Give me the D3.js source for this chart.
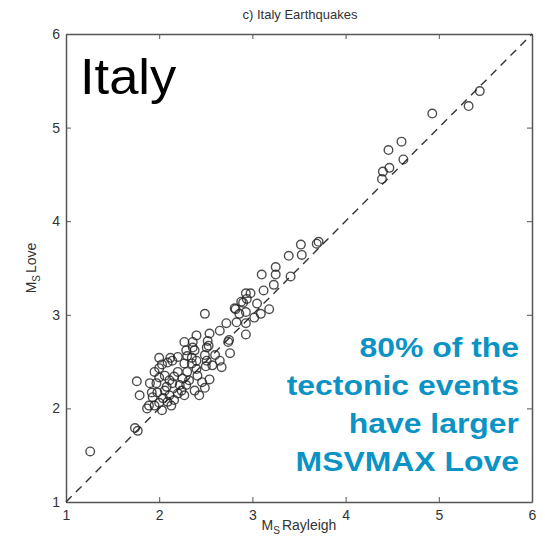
<!DOCTYPE html>
<html><head><meta charset="utf-8">
<script src="https://cdn.jsdelivr.net/npm/d3@7"></script>
<style>body{margin:0;background:#fff}svg{display:block}text{font-family:"Liberation Sans",Arial,sans-serif}</style>
</head><body>
<script>
const title = "c) Italy Earthquakes";
const xLabel = "Rayleigh", yLabel = "Love";
const ticks = [1, 2, 3, 4, 5, 6];
const noteLines = ["80% of the", "tectonic events", "have larger", "MSVMAX Love"];
const rayleigh = [1.26,1.74,1.77,1.76,1.79,1.87,1.89,1.90,2.00,2.03,2.12,2.20,2.27,2.36,2.29,2.38,2.27,2.35,2.51,2.52,2.49,2.60,2.50,2.67,2.74,2.76,2.46,2.54,2.49,2.40,2.30,2.20,2.00,2.00,1.97,1.92,1.98,2.08,2.14,2.22,2.20,2.11,2.04,2.09,2.16,2.00,1.95,1.93,2.24,2.29,2.49,3.10,3.25,3.25,3.23,3.41,3.39,3.53,3.52,3.71,3.69,3.12,2.93,2.98,2.88,3.05,2.82,2.86,2.93,3.09,3.18,3.02,2.83,2.93,2.72,2.65,2.54,2.40,2.93,2.75,2.36,2.51,2.14,2.94,2.90,2.81,2.53,2.35,5.32,5.44,4.93,4.60,4.62,4.46,4.47,4.40,4.39,2.06,2.11,2.16,2.25,2.32,2.38,2.27,2.06,2.13,2.03,2.30,2.40,2.41,2.57,2.65,2.09,1.95,2.43];
const love = [1.54,1.79,1.76,2.29,2.14,2.00,2.03,2.27,2.54,2.47,2.54,2.55,2.71,2.71,2.62,2.62,2.48,2.48,2.65,2.72,2.57,2.57,2.45,2.44,2.71,2.59,2.28,2.31,2.22,2.42,2.39,2.39,2.43,2.33,2.27,2.17,2.17,2.23,2.27,2.25,2.16,2.14,2.11,2.07,2.09,2.06,2.03,2.12,2.19,2.25,3.01,3.43,3.51,3.43,3.32,3.41,3.63,3.64,3.75,3.78,3.76,3.26,3.23,3.23,3.14,3.12,3.06,3.01,3.03,3.01,3.06,2.97,2.92,2.91,2.91,2.83,2.80,2.78,2.79,2.73,2.65,2.51,2.51,3.17,3.13,3.07,2.67,2.54,5.23,5.39,5.15,4.85,4.66,4.76,4.57,4.53,4.45,2.35,2.30,2.34,2.32,2.30,2.19,2.14,2.19,2.03,1.98,2.56,2.51,2.35,2.46,2.51,2.49,2.39,2.14];

const W = 545, H = 543;
const m = {left: 66, right: 532, top: 34, bottom: 502};
const svg = d3.select("body").append("svg").attr("width", W).attr("height", H);
svg.append("rect").attr("width", W).attr("height", H).attr("fill", "#fff");
const x = d3.scaleLinear().domain([1, 6]).range([m.left, m.right]);
const y = d3.scaleLinear().domain([1, 6]).range([m.bottom, m.top]);
const axCol = "#555";

function styleAxis(g) {
  g.selectAll("path.domain").attr("stroke", axCol).attr("stroke-width", 1.5);
  g.selectAll(".tick line").attr("stroke", axCol);
  g.selectAll(".tick text").attr("fill", "#333").attr("font-size", 14).attr("font-family", "Liberation Sans, Arial, sans-serif");
}
svg.append("g").attr("transform", `translate(0,${m.bottom})`)
  .call(d3.axisBottom(x).tickValues(ticks).tickFormat(d3.format("d")).tickSizeInner(-5).tickSizeOuter(0).tickPadding(8)).call(styleAxis);
svg.append("g").attr("transform", `translate(0,${m.top})`)
  .call(d3.axisTop(x).tickValues(ticks).tickFormat("").tickSizeInner(-5).tickSizeOuter(0)).call(styleAxis);
svg.append("g").attr("transform", `translate(${m.left},0)`)
  .call(d3.axisLeft(y).tickValues(ticks).tickFormat(d3.format("d")).tickSizeInner(-5).tickSizeOuter(0).tickPadding(6)).call(styleAxis);
svg.append("g").attr("transform", `translate(${m.right},0)`)
  .call(d3.axisRight(y).tickValues(ticks).tickFormat("").tickSizeInner(-5).tickSizeOuter(0)).call(styleAxis);

// 1:1 line
svg.append("line").attr("x1", x(1)).attr("y1", y(1)).attr("x2", x(6)).attr("y2", y(6))
  .attr("stroke", "#333").attr("stroke-width", 1.4).attr("stroke-dasharray", "8,6");

// points
svg.append("g").selectAll("circle").data(rayleigh.map((r, i) => [r, love[i]])).join("circle")
  .attr("cx", d => x(d[0])).attr("cy", d => y(d[1])).attr("r", 4.3)
  .attr("fill", "none").attr("stroke", "#222").attr("stroke-opacity", 0.8).attr("stroke-width", 1.4);

// title and labels
svg.append("text").attr("x", (m.left + m.right) / 2 + 1).attr("y", 19).attr("text-anchor", "middle")
  .attr("font-size", 13).attr("fill", "#333").text(title);
const xl = svg.append("text").attr("x", (m.left + m.right) / 2).attr("y", 530).attr("text-anchor", "middle")
  .attr("font-size", 14).attr("fill", "#333");
xl.append("tspan").text("M");
xl.append("tspan").attr("dy", 4).attr("font-size", 10).text("S");
xl.append("tspan").attr("dy", -4).attr("dx", 2).text(xLabel);
const yl = svg.append("text").attr("transform", `translate(36,${(m.top + m.bottom) / 2}) rotate(-90)`)
  .attr("text-anchor", "middle").attr("font-size", 14).attr("fill", "#333");
yl.append("tspan").text("M");
yl.append("tspan").attr("dy", 4).attr("font-size", 10).text("S");
yl.append("tspan").attr("dy", -4).attr("dx", 2).text(yLabel);

svg.append("text").attr("transform", "translate(80,94) scale(1.05,1)").attr("font-size", 50).attr("fill", "#000").text("Italy");

const note = svg.append("g").attr("transform", "translate(519,0) scale(1.14,1)");
note.selectAll("text").data(noteLines).join("text")
  .attr("x", 0).attr("y", (d, i) => 357 + i * 38).attr("text-anchor", "end")
  .attr("font-size", 28).attr("font-weight", "bold").attr("fill", "#0a93c4").text(d => d);
</script>
</body></html>
